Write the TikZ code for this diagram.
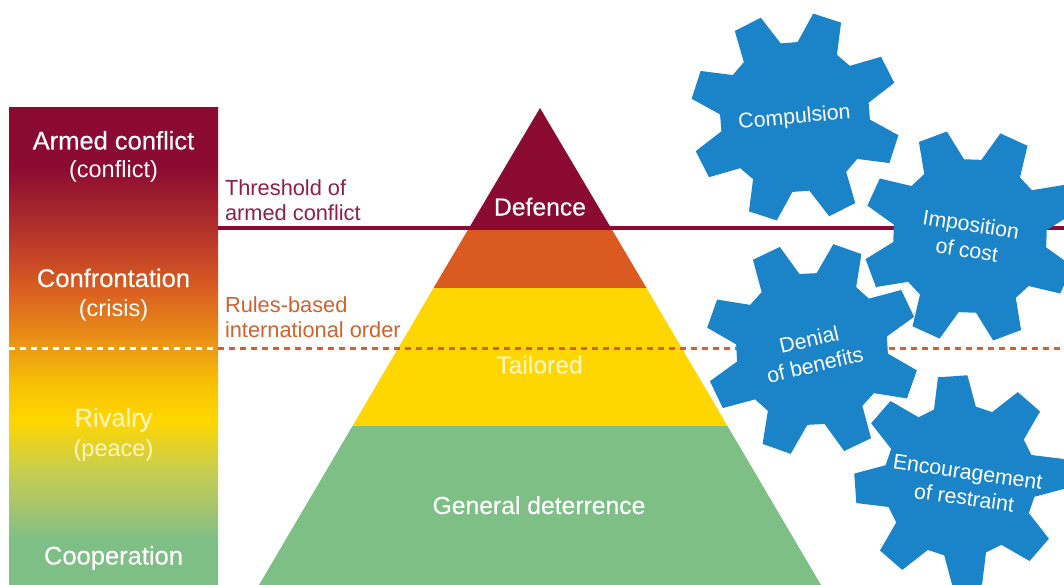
\documentclass[tikz,border=0pt]{standalone}
\usepackage{fontspec}
\setmainfont{Liberation Sans}
\newfontfamily\medfont[FakeBold=0.3]{Liberation Sans}
\definecolor{maroon}{HTML}{8A0A32}
\definecolor{orangeb}{HTML}{DA5A20}
\definecolor{yellowb}{HTML}{FFD600}
\definecolor{greenb}{HTML}{7DBF85}
\definecolor{gearblue}{HTML}{1B84C9}
\definecolor{rulesorange}{HTML}{D0622F}
\definecolor{labelmaroon}{HTML}{8E1F48}
\definecolor{paleyellow}{HTML}{FFF4BC}
\definecolor{sA}{HTML}{A8C56B}
\definecolor{sB}{HTML}{C8CE50}
\definecolor{sC}{HTML}{F6BE06}
\definecolor{sD}{HTML}{EC9A14}
\definecolor{sE}{HTML}{DA5F20}
\definecolor{sF}{HTML}{B3322B}
\pgfdeclareverticalshading{barshade}{100bp}{
 color(0bp)=(greenb);
 color(25bp)=(greenb);
 color(29.7bp)=(greenb);
 color(33.5bp)=(sA);
 color(37.05bp)=(sB);
 color(42.3bp)=(yellowb);
 color(46.5bp)=(sC);
 color(49.8bp)=(sD);
 color(55.9bp)=(sE);
 color(62.2bp)=(sF);
 color(69bp)=(maroon);
 color(75bp)=(maroon);
 color(100bp)=(maroon)}
\newcommand{\gearpath}[5]{% x,y,tooth angle,R,r
 \fill[gearblue,shift={(#1,#2)}]
 \foreach \k in {0,...,7}{
  \pgfextra{\pgfmathsetmacro{\a}{-(#3)-45*\k}}
  \ifnum\k=0 (\a+16:#5)\else -- (\a+16:#5)\fi
  -- (\a+8:#4) -- (\a-8:#4) -- (\a-16:#5)
 } -- cycle;}
\tikzset{
 x=1pt,y=-1pt,
 bartitle/.style={white,anchor=base,font=\medfont\fontsize{25.5}{28}\selectfont},
 barsub/.style={white,anchor=base,font=\fontsize{23.5}{26}\selectfont},
 pyrtext/.style={white,anchor=base,font=\medfont\fontsize{24.7}{28}\selectfont},
 sidelabel/.style={anchor=west,align=left,font=\fontsize{21.8}{25}\selectfont},
 geartext/.style={white,font=\fontsize{21.3}{26}\selectfont,align=center},
 thresh/.style={maroon,line width=3pt},
 rules/.style={rulesorange,line width=3pt,dash pattern=on 6pt off 5pt},
}
\begin{document}
\begin{tikzpicture}
\useasboundingbox (0,0) rectangle (1064,585);
\fill[white] (0,0) rectangle (1064,585);
\coordinate (barR) at (218,228);
\coordinate (lineR) at (1064,228);
\coordinate (dashL) at (9,348);
\coordinate (dashM) at (218,348);
\coordinate (dashE) at (1064,348);
% bar
\shade[shading=barshade] (9,108) rectangle (218,585);
\draw[white,line width=3pt,dash pattern=on 6pt off 5pt] (dashL) -- (dashM);
% pyramid
\fill[orangeb] (469,228) -- (611,228) -- (646.5,288) -- (433.5,288) -- cycle;
\fill[yellowb] (433.5,288) -- (646.5,288) -- (727.5,426) -- (352.5,426) -- cycle;
\fill[greenb] (352.5,426) -- (727.5,426) -- (821,585) -- (259,585) -- cycle;
% lines
\draw[thresh] (barR) -- (lineR);
\draw[rules] (dashM) -- (dashE);
\fill[maroon] (540,108) -- (611,228) -- (469,228) -- cycle;
% gears
\gearpath{795}{117}{72}{105}{75}
\gearpath{970}{236}{65.5}{107}{77}
\gearpath{812}{349}{70.5}{107}{76}
\gearpath{960}{481}{94}{106}{76}
% text
\node[bartitle] (a1) at (113.5,149.5) {Armed conflict};
\node[barsub] (a2) at (113.5,178) {(conflict)};
\node[bartitle] (b1) at (113.5,287) {Confrontation};
\node[barsub] (b2) at (113.5,316) {(crisis)};
\node[bartitle,text=paleyellow] (c1) at (113.5,426.5) {Rivalry};
\node[barsub,text=paleyellow] (c2) at (113.5,456) {(peace)};
\node[bartitle] (d1) at (113.5,564.5) {Cooperation};
\node[sidelabel,text=labelmaroon] (t) at (221.5,200) {Threshold of\\armed conflict};
\node[sidelabel,text=rulesorange] (r) at (221.5,317) {Rules-based\\international order};
\node[pyrtext] (p1) at (540,215.5) {Defence};
\node[pyrtext,text=paleyellow] (p2) at (539.5,373.5) {Tailored};
\node[pyrtext] (p3) at (539,514) {General deterrence};
\node[geartext,rotate=5] (g1) at (794.5,118) {Compulsion};
\node[geartext,rotate=-9] (g2) at (969,237) {Imposition\\of cost};
\node[geartext,rotate=13] (g3) at (812,352) {Denial\\of benefits};
\node[geartext,rotate=-8] (g4) at (966,485) {Encouragement\\of restraint};
\end{tikzpicture}
\end{document}
